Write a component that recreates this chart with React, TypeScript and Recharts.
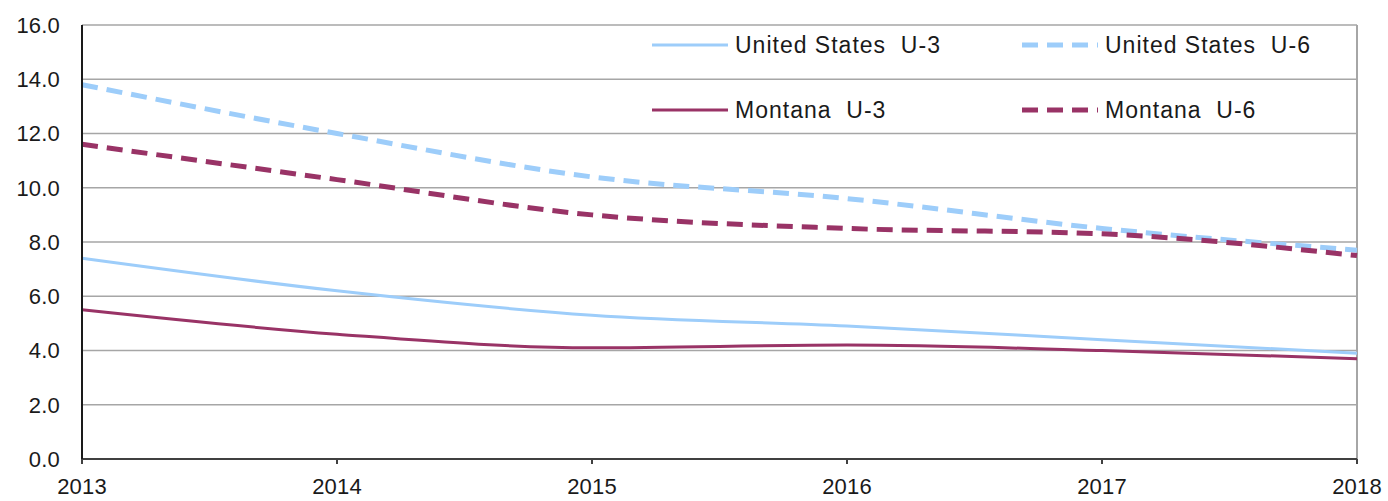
import React from 'react';
import { LineChart, Line, XAxis, YAxis, CartesianGrid, ReferenceLine } from 'recharts';

const years = ['2013', '2014', '2015', '2016', '2017', '2018'];
const usU3 = [7.4, 6.2, 5.3, 4.9, 4.4, 3.9];
const usU6 = [13.8, 12.0, 10.4, 9.6, 8.5, 7.7];
const mtU3 = [5.5, 4.6, 4.1, 4.2, 4.0, 3.7];
const mtU6 = [11.6, 10.3, 9.0, 8.5, 8.3, 7.5];
const yTicks = [0, 2, 4, 6, 8, 10, 12, 14, 16];

const US_COLOR = '#9dcdfa';
const MT_COLOR = '#993366';
const FONT = '"Liberation Sans", Arial, sans-serif';

const data = years.map((y, i) => ({ year: y, usU3: usU3[i], usU6: usU6[i], mtU3: mtU3[i], mtU6: mtU6[i] }));

const legendItems = [
  { label: 'United States  U-3', color: US_COLOR, dashed: false, left: 650, top: 45 },
  { label: 'United States  U-6', color: US_COLOR, dashed: true, left: 1020, top: 45 },
  { label: 'Montana  U-3', color: MT_COLOR, dashed: false, left: 650, top: 110 },
  { label: 'Montana  U-6', color: MT_COLOR, dashed: true, left: 1020, top: 110 },
];

const tickStyle = { fill: '#1a1a1a', fontFamily: FONT, fontSize: 22, letterSpacing: 0.2 };

export default function App() {
  return (
    <div style={{ position: 'absolute', left: 0, top: 0, width: 1388, height: 501, background: '#fff', overflow: 'hidden' }}>
      <LineChart width={1388} height={501} data={data} margin={{ top: 25, right: 31, bottom: 0, left: 0 }}>
        <CartesianGrid vertical={false} stroke="#a6a6a6" strokeWidth={1.5} />
        <ReferenceLine x="2018" stroke="#a6a6a6" strokeWidth={2} />
        <XAxis dataKey="year" height={42} padding={{ left: 0, right: 0 }} axisLine={{ stroke: '#404040', strokeWidth: 2 }} tickLine={{ stroke: '#404040', strokeWidth: 2 }} tickSize={5} tickMargin={14} tick={tickStyle} interval={0} />
        <YAxis domain={[0, 16]} ticks={yTicks} width={82} axisLine={{ stroke: '#1a1a1a', strokeWidth: 2 }} tickLine={false} tickSize={0} tickMargin={22} tickFormatter={(v: number) => v.toFixed(1)} tick={tickStyle} />
        <Line type="monotone" dataKey="usU3" stroke={US_COLOR} strokeWidth={3} dot={false} isAnimationActive={false} />
        <Line type="monotone" dataKey="usU6" stroke={US_COLOR} strokeWidth={5} strokeDasharray="16 9" dot={false} isAnimationActive={false} />
        <Line type="monotone" dataKey="mtU3" stroke={MT_COLOR} strokeWidth={3} dot={false} isAnimationActive={false} />
        <Line type="monotone" dataKey="mtU6" stroke={MT_COLOR} strokeWidth={5} strokeDasharray="16 9" dot={false} isAnimationActive={false} />
      </LineChart>
      {legendItems.map((it) => (
        <div key={it.label} style={{ position: 'absolute', left: it.left, top: it.top - 15, height: 30, display: 'flex', alignItems: 'center', fontFamily: FONT, fontSize: 23, letterSpacing: 1, color: '#1a1a1a', whiteSpace: 'pre' }}>
          <svg width={80} height={10} style={{ marginRight: 5 }}>
            <line x1={2} y1={5} x2={78} y2={5} stroke={it.color} strokeWidth={it.dashed ? 5 : 3} strokeDasharray={it.dashed ? '16 9' : undefined} />
          </svg>
          <span>{it.label}</span>
        </div>
      ))}
    </div>
  );
}
